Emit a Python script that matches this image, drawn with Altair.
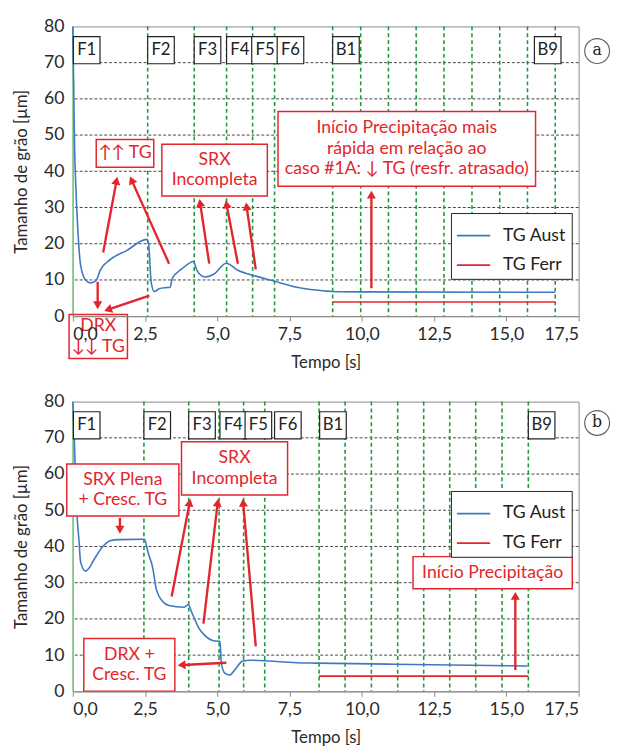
import math
import altair as alt
import pandas as pd

FONT = "Lato"
RED = "#e2262c"
BLUE = "#3f78c1"
GREEN = "#1e9a3c"
W, H = 515, 295
XMAX, YMAX = 17.5, 80
SX, SY = W / XMAX, H / YMAX
LH = 21

# ---------------- panel (a) data ----------------
a_aust_t = [0.0, 0.03, 0.06, 0.10, 0.18, 0.27, 0.44, 0.61, 0.78, 0.85, 0.95, 1.29, 1.86, 2.55,
            2.62, 2.71, 2.82, 2.99, 3.27, 3.37, 3.44, 3.78, 4.18, 4.29, 4.57, 4.86, 5.31, 5.71,
            6.22, 6.96, 7.75, 8.43, 8.99, 10.0, 16.69]
a_aust_v = [80, 64, 47, 36.6, 23, 14, 10, 9.2, 9.7, 10.5, 12.7, 15.6, 18.1, 21.2,
            20.0, 9.5, 6.8, 7.6, 7.9, 8.0, 10.4, 13.1, 15.1, 12.7, 10.8, 11.5, 14.6, 12.7,
            11.3, 9.7, 8.0, 7.2, 6.8, 6.7, 6.6]
a_ferr_t = [8.99, 16.69]
a_ferr_v = [3.9, 3.9]
a_pass_t = [2.59, 4.20, 5.32, 6.22, 6.98, 8.99, 9.96, 10.92, 11.88, 12.84, 13.81, 14.77, 15.73, 16.69]
a_stand_lbl = ["F1", "F2", "F3", "F4", "F5", "F6", "B1", "B9"]
a_stand_t = [0.02, 2.59, 4.20, 5.32, 6.19, 7.07, 8.99, 15.97]
a_note_txt = ["↑↑ TG", "SRX\nIncompleta",
              "Início Precipitação mais\nrápida em relação ao\ncaso #1A: ↓ TG (resfr. atrasado)",
              "DRX\n↓↓ TG"]
a_note_x1 = [0.81, 3.08, 7.10, -0.13]
a_note_x2 = [2.80, 6.73, 16.01, 1.89]
a_note_y1 = [41.1, 33.2, 35.9, -11.7]
a_note_y2 = [48.8, 47.5, 56.5, 0.46]
a_note_fill = ["white", "white", "white", "transparent"]
a_arr_t0 = [1.05, 3.33, 0.86, 2.65, 4.72, 5.71, 6.33, 10.33]
a_arr_v0 = [17.6, 14.5, 9.5, 5.7, 14.5, 14.5, 12.9, 7.7]
a_arr_t1 = [1.54, 1.97, 0.86, 1.07, 4.38, 5.29, 5.99, 10.33]
a_arr_v1 = [38.6, 38.7, 1.8, 1.4, 32.5, 32.1, 31.5, 34.8]

# ---------------- panel (b) data ----------------
b_aust_t = [0.0, 0.05, 0.10, 0.14, 0.21, 0.27, 0.44, 0.55, 0.72, 1.06, 1.29, 1.60, 2.42, 2.48,
            2.60, 2.77, 2.88, 3.10, 3.33, 3.84, 3.99, 4.12, 4.35, 4.57, 4.86, 5.09, 5.14,
            5.26, 5.43, 5.60, 5.88, 6.16, 7.75, 8.43, 11.1, 15.73]
b_aust_v = [80, 70, 57, 49.3, 42, 35.7, 33.2, 33.9, 36.2, 40.2, 41.6, 41.9, 42, 42,
            38.4, 33.9, 28.5, 24.9, 23.7, 23.2, 23.9, 21.7, 17.6, 15.4, 14.0, 13.8, 7.7,
            5.0, 4.5, 5.9, 8.4, 8.6, 7.9, 7.8, 7.5, 7.0]
b_ferr_t = [8.52, 15.76]
b_ferr_v = [4.2, 4.2]
b_pass_t = [2.46, 4.01, 5.06, 5.91, 6.64, 8.52, 9.42, 10.33, 11.24, 12.14, 13.04, 13.94, 14.85, 15.76]
b_stand_lbl = ["F1", "F2", "F3", "F4", "F5", "F6", "B1", "B9"]
b_stand_t = [0.02, 2.46, 4.01, 5.09, 5.96, 6.98, 8.54, 15.76]
b_note_txt = ["SRX Plena\n+ Cresc. TG", "SRX\nIncompleta", "DRX +\nCresc. TG", "Início Precipitação"]
b_note_x1 = [-0.21, 3.76, 0.38, 11.77]
b_note_x2 = [3.67, 7.43, 3.53, 17.28]
b_note_y1 = [48.4, 54.2, 0.0, 28.3]
b_note_y2 = [62.8, 68.9, 14.6, 37.2]
b_note_fill = ["white", "white", "white", "white"]
b_arr_t0 = [1.63, 3.42, 4.52, 6.33, 5.31, 15.31]
b_arr_v0 = [47.9, 26.2, 18.7, 12.4, 7.9, 5.9]
b_arr_t1 = [1.63, 4.07, 5.03, 5.88, 3.61, 15.31]
b_arr_v1 = [43.4, 53.3, 53.3, 53.3, 7.2, 27.6]

grid_v = [10, 20, 30, 40, 50, 60, 70]
series_names = ["TG Aust", "TG Ferr"]

xscale = alt.Scale(domain=[0, XMAX], nice=False, zero=False)
yscale = alt.Scale(domain=[0, YMAX], nice=False, zero=False)
xaxis = alt.Axis(values=[0, 2.5, 5, 7.5, 10, 12.5, 15, 17.5], grid=False, zindex=1,
                 labelExpr="replace(format(datum.value, '.1f'), '.', ',')",
                 title="Tempo [s]", tickSize=5, tickColor="#888", domainColor="#888",
                 labelPadding=5, titlePadding=11)
yaxis = alt.Axis(values=list(range(0, 81, 10)), grid=False, domain=False, ticks=False,
                 title="Tamanho de grão [µm]", labelPadding=9, titlePadding=13)


def X(f="x"):
    return alt.X(f + ":Q", scale=xscale, axis=xaxis)


def Y(f="y"):
    return alt.Y(f + ":Q", scale=yscale, axis=yaxis)


def arrow_frames(t0, v0, t1, v1):
    lines, heads = [], []
    for x0, y0, x1, y1 in zip(t0, v0, t1, v1):
        dx = (x1 - x0) * SX
        dy = -(y1 - y0) * SY
        L = math.hypot(dx, dy)
        ux, uy = dx / L, dy / L
        ang = math.degrees(math.atan2(ux, -uy)) % 360
        lines.append({"x": x0, "y": y0, "x2": x1 - ux * 6 / SX, "y2": y1 + uy * 6 / SY})
        heads.append({"x": x1 - ux * 4.5 / SX, "y": y1 + uy * 4.5 / SY, "ang": ang})
    return pd.DataFrame(lines), pd.DataFrame(heads)


def panel(aust_t, aust_v, ferr_t, ferr_v, pass_t, st_lbl, st_t,
          n_txt, n_x1, n_x2, n_y1, n_y2, n_fill, r_t0, r_v0, r_t1, r_v1,
          legend_y, tag, tag_y):
    grid = alt.Chart(pd.DataFrame({"y": grid_v})).mark_rule(
        color="#444", strokeDash=[3, 2], strokeWidth=1).encode(y=Y())
    zero_line = alt.Chart(pd.DataFrame({"x": [0.0]})).mark_rule(
        color="#8fcf8f", strokeWidth=1.5).encode(x=X())
    passes = alt.Chart(pd.DataFrame({"x": pass_t})).mark_rule(
        color=GREEN, strokeDash=[4, 3], strokeWidth=1.6).encode(x=X())

    lines_df = pd.concat([
        pd.DataFrame({"x": aust_t, "y": aust_v, "series": series_names[0]}),
        pd.DataFrame({"x": ferr_t, "y": ferr_v, "series": series_names[1]}),
    ])
    lines = alt.Chart(lines_df).mark_line(strokeWidth=1.6, interpolate="monotone").encode(
        x=X(), y=Y(),
        color=alt.Color("series:N",
                        scale=alt.Scale(domain=series_names, range=[BLUE, RED]),
                        legend=alt.Legend(orient="none", legendX=385, legendY=legend_y,
                                          title=None, strokeColor="#222", fillColor="white",
                                          padding=5, symbolType="stroke", symbolSize=1150,
                                          symbolStrokeWidth=1.8, labelFontSize=18,
                                          labelFont=FONT, labelColor="#222", labelOffset=12,
                                          rowPadding=3)))

    st_df = pd.DataFrame({"x": st_t, "lbl": st_lbl})
    st_df["x2"] = st_df["x"] + 0.92
    st_df["xc"] = st_df["x"] + 0.46
    st_df["y"] = 69.7
    st_df["y2"] = 77.2
    st_df["yc"] = 73.45
    st_box = alt.Chart(st_df).mark_rect(fill="white", stroke="#222", strokeWidth=1.2).encode(
        x=X(), x2="x2", y=Y(), y2="y2")
    st_txt = alt.Chart(st_df).mark_text(font=FONT, fontSize=17, color="#222").encode(
        x=X("xc"), y=Y("yc"), text="lbl:N")

    n_df = pd.DataFrame({"x": n_x1, "x2": n_x2, "y": n_y1, "y2": n_y2, "txt": n_txt, "fill": n_fill})
    n_df["xc"] = (n_df["x"] + n_df["x2"]) / 2
    n_lines = n_df["txt"].str.count("\n")
    n_df["yc"] = (n_df["y"] + n_df["y2"]) / 2 + n_lines * LH / 2 / SY
    n_box = alt.Chart(n_df).mark_rect(stroke=RED, strokeWidth=1.5).encode(
        x=X(), x2="x2", y=Y(), y2="y2", fill=alt.Fill("fill:N", scale=None))
    n_txt_m = alt.Chart(n_df).mark_text(font=FONT, fontSize=18, color=RED, lineBreak="\n",
                                        lineHeight=LH).encode(
        x=X("xc"), y=Y("yc"), text="txt:N")

    ldf, hdf = arrow_frames(r_t0, r_v0, r_t1, r_v1)
    a_lines = alt.Chart(ldf).mark_rule(color=RED, strokeWidth=2.4).encode(
        x=X(), y=Y(), x2="x2", y2="y2")
    a_heads = alt.Chart(hdf).mark_point(shape="triangle-up", filled=True, color=RED,
                                        size=85, opacity=1).encode(
        x=X(), y=Y(), angle=alt.Angle("ang:Q", scale=None))

    tag_df = pd.DataFrame({"x": [18.14], "y": [tag_y], "t": [tag]})
    tag_c = alt.Chart(tag_df).mark_point(shape="circle", size=640, color="#222",
                                         strokeWidth=1.2).encode(x=X(), y=Y())
    tag_t = alt.Chart(tag_df).mark_text(font="DejaVu Serif", fontSize=16, color="#222",
                                        dy=-1).encode(x=X(), y=Y(), text="t:N")

    return alt.layer(grid, zero_line, passes, lines, st_box, st_txt, n_box, n_txt_m,
                     a_lines, a_heads, tag_c, tag_t).properties(width=W, height=H)


pa = panel(a_aust_t, a_aust_v, a_ferr_t, a_ferr_v, a_pass_t, a_stand_lbl, a_stand_t,
           a_note_txt, a_note_x1, a_note_x2, a_note_y1, a_note_y2, a_note_fill,
           a_arr_t0, a_arr_v0, a_arr_t1, a_arr_v1, 190, "a", 73.2)
pb = panel(b_aust_t, b_aust_v, b_ferr_t, b_ferr_v, b_pass_t, b_stand_lbl, b_stand_t,
           b_note_txt, b_note_x1, b_note_x2, b_note_y1, b_note_y2, b_note_fill,
           b_arr_t0, b_arr_v0, b_arr_t1, b_arr_v1, 91, "b", 74.1)

chart = alt.vconcat(pa, pb, spacing=21).resolve_scale(color="independent").resolve_legend(
    color="independent").properties(
    padding={"left": 4, "top": 2, "right": 0, "bottom": 0}
).configure_axis(
    labelFont=FONT, titleFont=FONT, labelFontSize=18, titleFontSize=17,
    labelColor="#2a2a2a", titleColor="#2a2a2a", titleFontWeight="normal"
).configure_view(stroke="#8a8a8a", strokeWidth=1)

chart.save("out.html", embed_options={"renderer": "svg", "actions": False})
